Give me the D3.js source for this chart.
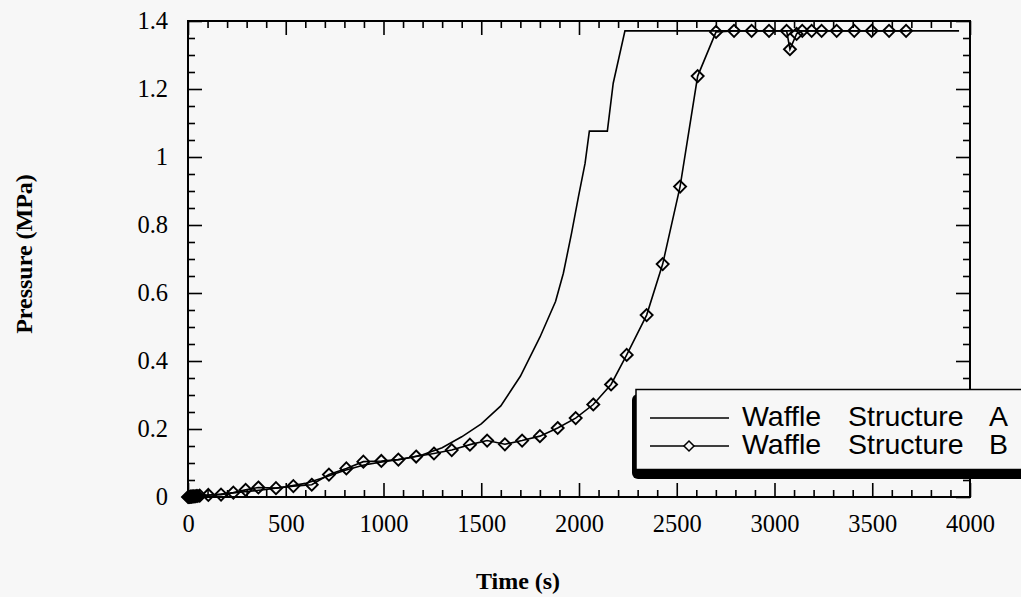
<!DOCTYPE html>
<html>
<head>
<meta charset="utf-8">
<script src="https://cdn.jsdelivr.net/npm/d3@7"></script>
<style>
  html, body { margin: 0; padding: 0; background: #f7f7f7; }
  svg { display: block; }
</style>
</head>
<body>
<svg id="chart" width="1021" height="597"></svg>
<script>
// ---- data ----
const xTickValues = [0, 500, 1000, 1500, 2000, 2500, 3000, 3500, 4000];
const xTickLabels = ["0", "500", "1000", "1500", "2000", "2500", "3000", "3500", "4000"];
const yTickValues = [0, 0.2, 0.4, 0.6, 0.8, 1, 1.2, 1.4];
const yTickLabels = ["0", "0.2", "0.4", "0.6", "0.8", "1", "1.2", "1.4"];

const seriesNames = ["Waffle Structure A", "Waffle Structure B"];

// Waffle Structure A (time s, pressure MPa)
const timeA = [0, 100, 200, 300, 400, 500, 600, 700, 800, 900, 1000, 1100, 1200, 1300, 1400, 1500, 1600, 1700, 1800, 1880, 1920, 1962, 1997, 2031, 2053, 2145, 2175, 2235, 3944];
const pressA = [0, 0.005, 0.01, 0.016, 0.022, 0.03, 0.04, 0.058, 0.078, 0.094, 0.104, 0.112, 0.124, 0.145, 0.177, 0.215, 0.268, 0.355, 0.47, 0.575, 0.658, 0.776, 0.883, 0.981, 1.076, 1.076, 1.217, 1.371, 1.371];

// Waffle Structure B
const timeB = [0, 4, 8, 12, 16, 20, 25, 30, 36, 42, 50, 60, 104, 169, 232, 295, 360, 450, 539, 633, 721, 810, 897, 989, 1076, 1167, 1258, 1349, 1442, 1530, 1621, 1709, 1800, 1891, 1983, 2073, 2164, 2244, 2346, 2428, 2517, 2607, 2701, 2793, 2883, 2972, 3062, 3079, 3113, 3142, 3190, 3241, 3318, 3408, 3497, 3586, 3673];
const pressB = [0, 0, 0, 0.001, 0.001, 0.001, 0.002, 0.002, 0.002, 0.003, 0.003, 0.004, 0.006, 0.007, 0.013, 0.021, 0.028, 0.026, 0.032, 0.036, 0.066, 0.084, 0.104, 0.106, 0.110, 0.119, 0.128, 0.138, 0.154, 0.166, 0.155, 0.166, 0.179, 0.203, 0.232, 0.272, 0.331, 0.418, 0.535, 0.685, 0.913, 1.238, 1.368, 1.371, 1.371, 1.371, 1.371, 1.317, 1.362, 1.371, 1.371, 1.371, 1.371, 1.371, 1.371, 1.371, 1.371];

// ---- layout ----
const L = 188, R = 970, T = 21, B = 497;
const svg = d3.select("#chart");
const x = d3.scaleLinear().domain([0, 4000]).range([L, R]);
const y = d3.scaleLinear().domain([0, 1.4]).range([B, T]);

const serif = "'Liberation Serif', 'Times New Roman', serif";
const sans = "'Liberation Sans', Arial, Helvetica, sans-serif";

const xMinor = d3.range(0, 4001, 100).filter(v => v % 500 !== 0);
const yMinor = d3.range(0, 29).map(i => +(i * 0.05).toFixed(2)).filter(v => Math.abs(v * 5 - Math.round(v * 5)) > 1e-6);

function styleAxis(g) {
  g.select(".domain").remove();
  g.selectAll(".tick line").attr("stroke", "#000").attr("stroke-width", 1.6);
  g.selectAll(".tick text").attr("fill", "#000").attr("font-family", serif).attr("font-size", 24.5);
}

// bottom
svg.append("g").attr("transform", `translate(0,${B})`)
  .call(d3.axisBottom(x).tickValues(xTickValues).tickSize(-14).tickPadding(18)
    .tickFormat((d, i) => xTickLabels[i]))
  .call(styleAxis);
svg.append("g").attr("transform", `translate(0,${B})`)
  .call(d3.axisBottom(x).tickValues(xMinor).tickSize(-7).tickFormat(""))
  .call(styleAxis);
// top
svg.append("g").attr("transform", `translate(0,${T})`)
  .call(d3.axisTop(x).tickValues(xTickValues).tickSize(-14).tickFormat(""))
  .call(styleAxis);
svg.append("g").attr("transform", `translate(0,${T})`)
  .call(d3.axisTop(x).tickValues(xMinor).tickSize(-7).tickFormat(""))
  .call(styleAxis);
// left
svg.append("g").attr("transform", `translate(${L},0)`)
  .call(d3.axisLeft(y).tickValues(yTickValues).tickSize(-14).tickPadding(20)
    .tickFormat((d, i) => yTickLabels[i]))
  .call(styleAxis);
svg.append("g").attr("transform", `translate(${L},0)`)
  .call(d3.axisLeft(y).tickValues(yMinor).tickSize(-7).tickFormat(""))
  .call(styleAxis);
// right
svg.append("g").attr("transform", `translate(${R},0)`)
  .call(d3.axisRight(y).tickValues(yTickValues).tickSize(-14).tickFormat(""))
  .call(styleAxis);
svg.append("g").attr("transform", `translate(${R},0)`)
  .call(d3.axisRight(y).tickValues(yMinor).tickSize(-7).tickFormat(""))
  .call(styleAxis);

// frame
svg.append("rect").attr("x", L).attr("y", T).attr("width", R - L).attr("height", B - T)
  .attr("fill", "none").attr("stroke", "#000").attr("stroke-width", 2);

// series
const dataA = timeA.map((t, i) => [t, pressA[i]]);
const dataB = timeB.map((t, i) => [t, pressB[i]]);
const line = d3.line().x(d => x(d[0])).y(d => y(d[1]));

svg.append("path").datum(dataA).attr("d", line)
  .attr("fill", "none").attr("stroke", "#000").attr("stroke-width", 1.6);
svg.append("path").datum(dataB).attr("d", line)
  .attr("fill", "none").attr("stroke", "#000").attr("stroke-width", 1.6);

const diamond = s => `M0,${-s}L${s},0L0,${s}L${-s},0Z`;
svg.append("g").selectAll("path").data(dataB).join("path")
  .attr("transform", d => `translate(${x(d[0])},${y(d[1])})`)
  .attr("d", diamond(6))
  .attr("fill", "none").attr("stroke", "#000").attr("stroke-width", 1.9);

// axis titles
svg.append("text").attr("x", 518).attr("y", 589).attr("text-anchor", "middle")
  .attr("font-family", serif).attr("font-weight", "bold").attr("font-size", 24)
  .text("Time (s)");
svg.append("text").attr("transform", "translate(32,254) rotate(-90)").attr("text-anchor", "middle")
  .attr("font-family", serif).attr("font-weight", "bold").attr("font-size", 24)
  .text("Pressure (MPa)");

// legend
const lg = svg.append("g");
lg.append("rect").attr("x", 632).attr("y", 394).attr("width", 420).attr("height", 85).attr("rx", 6)
  .attr("fill", "#000");
lg.append("rect").attr("x", 636).attr("y", 389.5).attr("width", 420).attr("height", 80)
  .attr("fill", "#f7f7f7").attr("stroke", "#000").attr("stroke-width", 1.5);

const legendY = [418, 446];
const legendBase = [426, 454];
const wordX = [742, 848, 989];
[0, 1].forEach(i => {
  lg.append("line").attr("x1", 650).attr("x2", 729).attr("y1", legendY[i]).attr("y2", legendY[i])
    .attr("stroke", "#000").attr("stroke-width", 1.5);
  if (i === 1) {
    lg.append("path").attr("transform", `translate(689,${legendY[i]})`).attr("d", diamond(5))
      .attr("fill", "#f7f7f7").attr("stroke", "#000").attr("stroke-width", 1.5);
  }
  const t = lg.append("text").attr("y", legendBase[i])
    .attr("font-family", sans).attr("font-size", 28.5).attr("fill", "#000");
  seriesNames[i].split(" ").forEach((w, j) => {
    t.append("tspan").attr("x", wordX[j]).text(w + (j < 2 ? " " : ""));
  });
});
</script>
</body>
</html>
